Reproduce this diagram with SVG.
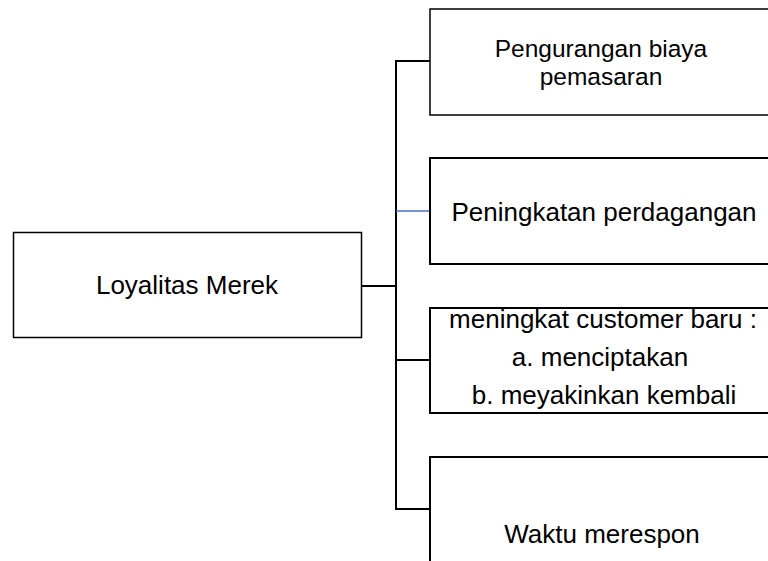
<svg xmlns="http://www.w3.org/2000/svg" width="768" height="561" viewBox="0 0 768 561">
<style>
.box{fill:#fff;stroke:#000;stroke-width:2}
.thin{stroke-width:1.5}
.t{font-family:"Liberation Sans",Arial,sans-serif;font-size:26px;fill:#000;text-anchor:middle}
.s{font-size:24.5px}
.c{fill:none;stroke:#000;stroke-width:2}
</style>
<rect width="768" height="561" fill="#fff"/>
<g id="connectors">
<line class="c" x1="361" y1="286" x2="396" y2="286"/>
<line class="c" x1="396" y1="61" x2="396" y2="510"/>
<line class="c" x1="395" y1="61" x2="430" y2="61"/>
<line x1="396" y1="211" x2="430" y2="211" stroke="#4472C4" stroke-width="1.5"/>
<line class="c" x1="395" y1="360" x2="430" y2="360"/>
<line class="c" x1="395" y1="509" x2="430" y2="509"/>
</g>
<g id="loyalitas">
<rect class="box thin" x="13.5" y="232.5" width="348" height="105"/>
<text class="t" x="187" y="294">Loyalitas Merek</text>
</g>
<g id="pengurangan">
<rect class="box thin" x="430" y="9" width="360" height="106"/>
<text class="t s" x="601" y="56.5">Pengurangan biaya</text>
<text class="t s" x="601" y="84.5">pemasaran</text>
</g>
<g id="peningkatan">
<rect class="box" x="430" y="158" width="360" height="106"/>
<text class="t" x="604" y="221">Peningkatan perdagangan</text>
</g>
<g id="customer">
<rect class="box" x="430" y="308" width="360" height="105"/>
<text class="t" x="603" y="328">meningkat customer baru :</text>
<text class="t" x="600" y="366">a. menciptakan</text>
<text class="t" x="604" y="404">b. meyakinkan kembali</text>
</g>
<g id="waktu">
<rect class="box" x="430" y="457" width="360" height="140"/>
<text class="t" x="602" y="543">Waktu merespon</text>
</g>
</svg>
